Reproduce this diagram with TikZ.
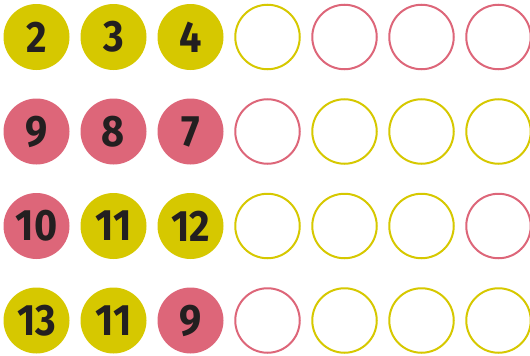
\documentclass[tikz,border=0pt]{standalone}
\usepackage{fontspec}
\setmainfont[FakeStretch=0.9]{Fira Sans}
\definecolor{yel}{HTML}{D6C800}
\definecolor{pnk}{HTML}{DD6679}
\definecolor{ink}{HTML}{231F20}
\tikzset{
  fy/.style={circle, fill=yel, minimum size=66pt, inner sep=0pt, text=ink, font=\fontsize{44}{44}\selectfont\bfseries},
  fp/.style={circle, fill=pnk, minimum size=66pt, inner sep=0pt, text=ink, font=\fontsize{44}{44}\selectfont\bfseries},
  oy/.style={circle, draw=yel, line width=2pt, minimum size=64.5pt, inner sep=0pt},
  op/.style={circle, draw=pnk, line width=2pt, minimum size=64.5pt, inner sep=0pt}
}
\begin{document}
\begin{tikzpicture}[x=1pt,y=-1pt]
\useasboundingbox (0,0) rectangle (530,356);
\foreach \r/\y/\a/\ta/\b/\tb/\c/\tc/\d/\e/\f/\g in {
  1/37/fy/2/fy/3/fy/4/oy/op/op/op,
  2/131.5/fp/9/fp/8/fp/7/op/oy/oy/oy,
  3/226/fp/10/fy/11/fy/12/oy/oy/oy/op,
  4/320.5/fy/13/fy/11/fp/9/op/oy/oy/oy}{
  \node[\a] (n\r-1) at (36.5,\y) {\ta};
  \node[\b] (n\r-2) at (113.5,\y) {\tb};
  \node[\c] (n\r-3) at (190.5,\y) {\tc};
  \node[\d] (n\r-4) at (267.5,\y) {};
  \node[\e] (n\r-5) at (344.5,\y) {};
  \node[\f] (n\r-6) at (421.5,\y) {};
  \node[\g] (n\r-7) at (498.5,\y) {};
}
\end{tikzpicture}
\end{document}
